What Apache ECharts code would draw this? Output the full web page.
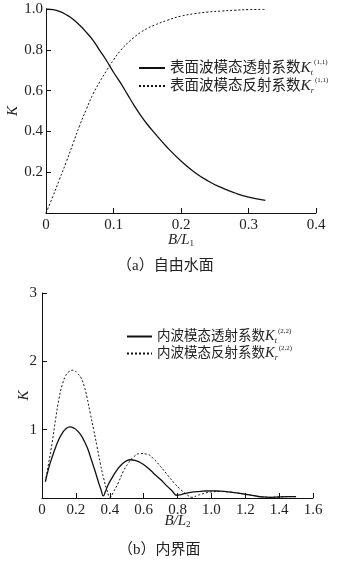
<!DOCTYPE html>
<html>
<head>
<meta charset="utf-8">
<script src="https://cdn.jsdelivr.net/npm/echarts@6/dist/echarts.min.js"></script>
<style>
	html, body { margin: 0; padding: 0; background: #fff; }
	#main { width: 350px; height: 564px; }
</style>
</head>
<body>
<div id="main"></div>
<script>
	// (a) 自由水面
	var xA = [0, 0.01, 0.02, 0.03, 0.04, 0.05, 0.06, 0.07, 0.08, 0.09, 0.10, 0.11, 0.12, 0.13, 0.14, 0.15, 0.16, 0.18, 0.20, 0.22, 0.24, 0.26, 0.28, 0.30, 0.325];
	var ktA = [1.0, 0.997, 0.988, 0.972, 0.95, 0.92, 0.885, 0.845, 0.795, 0.745, 0.69, 0.64, 0.585, 0.53, 0.48, 0.435, 0.395, 0.32, 0.255, 0.20, 0.157, 0.124, 0.098, 0.078, 0.062];
	var krA = [0, 0.08, 0.165, 0.25, 0.34, 0.43, 0.51, 0.585, 0.645, 0.70, 0.75, 0.795, 0.83, 0.86, 0.885, 0.905, 0.92, 0.945, 0.965, 0.977, 0.985, 0.99, 0.994, 0.997, 0.998];

	// (b) 内界面
	var xKtB = [0.02, 0.04, 0.06, 0.08, 0.10, 0.12, 0.14, 0.165, 0.19, 0.21, 0.23, 0.25, 0.27, 0.29, 0.31, 0.33, 0.35, 0.362, 0.375, 0.39, 0.41, 0.44, 0.47, 0.50, 0.52, 0.55, 0.58, 0.62, 0.66, 0.70, 0.74, 0.77, 0.795, 0.82, 0.86, 0.90, 0.95, 1.0, 1.05, 1.1, 1.15, 1.2, 1.25, 1.3, 1.35, 1.4, 1.45, 1.5];
	var ktB = [0.24, 0.44, 0.60, 0.74, 0.86, 0.95, 1.01, 1.04, 1.02, 0.98, 0.92, 0.83, 0.72, 0.57, 0.42, 0.26, 0.11, 0.03, 0.10, 0.19, 0.28, 0.40, 0.49, 0.545, 0.56, 0.55, 0.52, 0.45, 0.36, 0.27, 0.17, 0.10, 0.04, 0.05, 0.075, 0.09, 0.10, 0.105, 0.10, 0.09, 0.075, 0.055, 0.035, 0.015, 0.01, 0.015, 0.02, 0.02];
	var xKrB = [0.02, 0.04, 0.06, 0.08, 0.10, 0.12, 0.14, 0.16, 0.185, 0.21, 0.23, 0.25, 0.265, 0.285, 0.305, 0.325, 0.344, 0.365, 0.383, 0.403, 0.42, 0.45, 0.48, 0.51, 0.54, 0.58, 0.62, 0.66, 0.70, 0.74, 0.78, 0.82, 0.86, 0.885, 0.92, 0.96, 1.0, 1.05, 1.1, 1.15, 1.2, 1.25, 1.3, 1.35, 1.4, 1.45, 1.5];
	var krB = [0.24, 0.52, 0.81, 1.15, 1.45, 1.66, 1.79, 1.85, 1.87, 1.82, 1.76, 1.63, 1.48, 1.24, 1.0, 0.75, 0.51, 0.28, 0.12, 0.01, 0.08, 0.22, 0.39, 0.51, 0.60, 0.65, 0.64, 0.57, 0.46, 0.34, 0.22, 0.12, 0.04, 0.01, 0.04, 0.07, 0.09, 0.095, 0.09, 0.075, 0.055, 0.035, 0.015, 0.01, 0.015, 0.02, 0.02];

	var ticksXA = ['0', '0.1', '0.2', '0.3', '0.4'];
	var ticksXB = ['0', '0.2', '0.4', '0.6', '0.8', '1.0', '1.2', '1.4', '1.6'];

	function pairs(xs, ys) {
		return xs.map(function(x, i) { return [x, ys[i]]; });
	}

	var serif = "'Times New Roman', 'Liberation Serif', 'Noto Sans CJK SC', serif";
	function richOf(size, lh) {
		return {
			n: { fontFamily: serif, fontSize: size, color: '#222', lineHeight: lh },
			k: { fontFamily: serif, fontSize: size + 1, fontStyle: 'italic', color: '#222', lineHeight: lh },
			sub: { fontFamily: serif, fontSize: 8, fontStyle: 'italic', color: '#222', verticalAlign: 'bottom', lineHeight: lh },
			sup: { fontFamily: serif, fontSize: 7, color: '#222', verticalAlign: 'top', lineHeight: lh, padding: [0, 0, 0, 1] }
		};
	}
	var nameRich = {
		i: { fontFamily: serif, fontSize: 15, fontStyle: 'italic', color: '#222' },
		s: { fontFamily: serif, fontSize: 9, color: '#222', verticalAlign: 'bottom', padding: [6, 0, 0, 0] }
	};

	var legendText = {
		'ktA': '{n|表面波模态透射系数}{k|K}{sub|t}{sup|(1,1)}',
		'krA': '{n|表面波模态反射系数}{k|K}{sub|r}{sup|(1,1)}',
		'ktB': '{n|内波模态透射系数}{k|K}{sub|t}{sup|(2,2)}',
		'krB': '{n|内波模态反射系数}{k|K}{sub|r}{sup|(2,2)}'
	};

	function xAxisOf(idx, max, interval, ticks, sub, gap) {
		return {
			type: 'value', gridIndex: idx, min: 0, max: max, interval: interval,
			axisLine: { lineStyle: { color: '#111', width: 1 } },
			axisTick: { inside: true, length: 5, lineStyle: { color: '#111' } },
			splitLine: { show: false },
			axisLabel: {
				color: '#222', fontFamily: serif, fontSize: 15, margin: 5,
				formatter: function(v) { return ticks[Math.round(v / interval)]; }
			},
			name: '{i|B/L}{s|' + sub + '}',
			nameLocation: 'middle', nameGap: gap, nameMoveOverlap: false,
			nameTextStyle: { rich: nameRich }
		};
	}

	function yAxisOf(idx, max, interval, digits, gap, margin) {
		return {
			type: 'value', gridIndex: idx, min: 0, max: max, interval: interval,
			axisLine: { show: true, lineStyle: { color: '#111', width: 1 } },
			axisTick: { show: true, inside: true, length: 5, lineStyle: { color: '#111' } },
			splitLine: { show: false },
			axisLabel: {
				color: '#222', fontFamily: serif, fontSize: 15, margin: margin,
				formatter: function(v) { return v === 0 ? '' : v.toFixed(digits); }
			},
			name: 'K', nameLocation: 'middle', nameGap: gap, nameRotate: 90, nameMoveOverlap: false,
			nameTextStyle: { fontFamily: serif, fontSize: 15, fontStyle: 'italic', color: '#222' }
		};
	}

	function lineSeries(name, idx, data, dotted) {
		return {
			name: name, type: 'line', xAxisIndex: idx, yAxisIndex: idx,
			data: data, symbol: 'none', smooth: true, silent: true,
			itemStyle: { color: '#111' },
			lineStyle: { color: '#111', width: dotted ? 1 : 1.3, type: dotted ? [2, 2] : 'solid' }
		};
	}

	function legendOf(names, left, top, w, size, lh) {
		return {
			data: names, orient: 'vertical', left: left, top: top,
			itemWidth: w, itemHeight: 10, itemGap: 0,
			itemStyle: { color: 'rgba(0,0,0,0)', borderWidth: 0, opacity: 0 },
			formatter: function(n) { return legendText[n]; },
			textStyle: { fontSize: size, fontFamily: serif, rich: richOf(size, lh) }
		};
	}

	var option = {
		animation: false,
		grid: [
			{ left: 46, top: 9, width: 270, height: 204, outerBoundsMode: 'none' },
			{ left: 42, top: 293, width: 271, height: 205, outerBoundsMode: 'none' }
		],
		title: [
			{ text: '（a）自由水面', top: 259, left: 117, padding: 0, textStyle: { fontFamily: serif, fontSize: 15, fontWeight: 'normal', color: '#222' } },
			{ text: '（b）内界面', top: 543, left: 118, padding: 0, textStyle: { fontFamily: serif, fontSize: 15, fontWeight: 'normal', color: '#222' } }
		],
		legend: [
			legendOf(['ktA', 'krA'], 133, 54, 26, 14.5, 18),
			legendOf(['ktB', 'krB'], 121, 323, 25, 13.5, 17)
		],
		xAxis: [
			xAxisOf(0, 0.4, 0.1, ticksXA, '1', 20),
			xAxisOf(1, 1.6, 0.2, ticksXB, '2', 16)
		],
		yAxis: [
			yAxisOf(0, 1, 0.2, 1, 25, 3),
			yAxisOf(1, 3, 1, 0, 10, 5)
		],
		series: [
			lineSeries('ktA', 0, pairs(xA, ktA), false),
			lineSeries('krA', 0, pairs(xA, krA), true),
			lineSeries('ktB', 1, pairs(xKtB, ktB), false),
			lineSeries('krB', 1, pairs(xKrB, krB), true)
		]
	};

	var myChart = echarts.init(document.getElementById('main'));
	myChart.setOption(option);
</script>
</body>
</html>
